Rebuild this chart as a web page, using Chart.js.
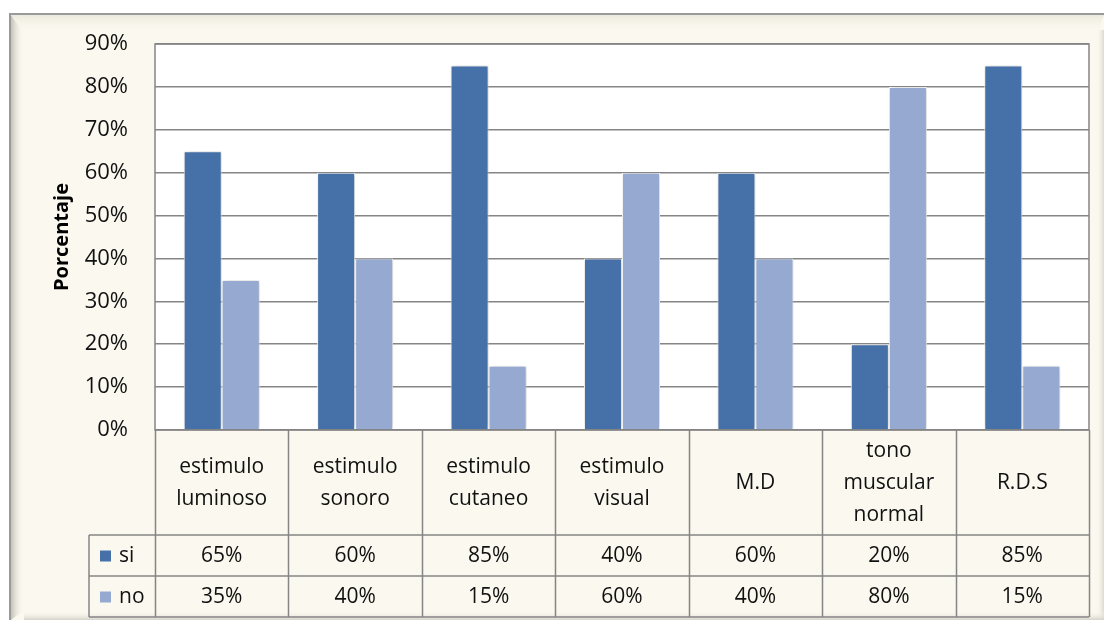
<!DOCTYPE html>
<html>
<head>
<meta charset="utf-8">
<script src="https://cdn.jsdelivr.net/npm/chart.js@4.4.1/dist/chart.umd.min.js"></script>
<style>
  html, body { margin: 0; padding: 0; background: #ffffff; }
  #wrap { width: 1104px; height: 620px; }
</style>
</head>
<body>
<div id="wrap"><canvas id="chart" width="1104" height="620"></canvas></div>
<script>
var categories = [
  ["estimulo", "luminoso"],
  ["estimulo", "sonoro"],
  ["estimulo", "cutaneo"],
  ["estimulo", "visual"],
  ["M.D"],
  ["tono", "muscular", "normal"],
  ["R.D.S"]
];
var siValues = [65, 60, 85, 40, 60, 20, 85];
var noValues = [35, 40, 15, 60, 40, 80, 15];
var seriesNames = ["si", "no"];
var yMax = 90;
var yStep = 10;

var siColor = "#4671a8";
var noColor = "#95a9d1";
var cream = "#fbf9ef";
var lineGray = "#858585";
var fontFamily = "'Open Sans', Lato, sans-serif";

// marco con bisel estilo Excel
var framePlugin = {
  id: "frame",
  beforeDraw: function(chart) {
    var ctx = chart.ctx;
    var w = chart.width, h = chart.height;
    var a = chart.chartArea;
    ctx.save();
    ctx.fillStyle = "#ffffff";
    ctx.fillRect(0, 0, w, h);
    ctx.fillStyle = cream;
    ctx.fillRect(10, 14, w - 10, h - 14);

    // bisel izquierdo
    var g = ctx.createLinearGradient(11, 0, 24, 0);
    g.addColorStop(0, "#c4c2b6");
    g.addColorStop(1, "rgba(251,249,239,0)");
    ctx.fillStyle = g;
    ctx.beginPath();
    ctx.moveTo(11, 15); ctx.lineTo(24, 33); ctx.lineTo(24, h - 10); ctx.lineTo(11, h);
    ctx.fill();
    // bisel superior
    g = ctx.createLinearGradient(0, 15, 0, 33);
    g.addColorStop(0, "#ebe9de");
    g.addColorStop(1, "rgba(251,249,239,0)");
    ctx.fillStyle = g;
    ctx.beginPath();
    ctx.moveTo(11, 15); ctx.lineTo(w, 15); ctx.lineTo(w - 6, 33); ctx.lineTo(24, 33);
    ctx.fill();
    // bisel derecho
    g = ctx.createLinearGradient(w - 8, 0, w, 0);
    g.addColorStop(0, "rgba(251,249,239,0)");
    g.addColorStop(1, "#dcdad0");
    ctx.fillStyle = g;
    ctx.fillRect(w - 8, 30, 8, h - 30);
    // bisel inferior
    g = ctx.createLinearGradient(0, h - 9, 0, h);
    g.addColorStop(0, "rgba(251,249,239,0)");
    g.addColorStop(1, "#d6d4ca");
    ctx.fillStyle = g;
    ctx.fillRect(24, h - 9, w - 24, 9);

    ctx.strokeStyle = "#9a9a9a";
    ctx.lineWidth = 2;
    ctx.beginPath();
    ctx.moveTo(10, h); ctx.lineTo(10, 14); ctx.lineTo(w, 14);
    ctx.stroke();

    // fondo del area de trazado
    ctx.fillStyle = "#ffffff";
    ctx.fillRect(a.left, a.top, a.right - a.left, a.bottom - a.top);
    ctx.restore();
  }
};

var shadowPlugin = {
  id: "barShadow",
  beforeDatasetsDraw: function(chart) {
    var ctx = chart.ctx;
    ctx.save();
    ctx.shadowColor = "rgba(0,0,0,0.25)";
    ctx.shadowBlur = 5;
    ctx.shadowOffsetX = 1;
    ctx.shadowOffsetY = 0;
  },
  afterDatasetsDraw: function(chart) {
    chart.ctx.restore();
  }
};

// tabla de datos debajo del grafico
var tablePlugin = {
  id: "dataTable",
  afterDraw: function(chart) {
    var ctx = chart.ctx;
    var a = chart.chartArea;
    var x = chart.scales.x;
    var headBottom = 535, row1Bottom = 576, row2Bottom = 617, legendLeft = 89;
    var colW = (a.right - a.left) / categories.length;
    var i, j;

    ctx.save();
    ctx.strokeStyle = lineGray;
    ctx.lineWidth = 1.5;

    // borde del area de trazado
    ctx.strokeRect(a.left, a.top, a.right - a.left, a.bottom - a.top);

    ctx.beginPath();
    for (i = 0; i <= categories.length; i++) {
      var lx = Math.round(a.left + colW * i) + 0.5;
      ctx.moveTo(lx, a.bottom);
      ctx.lineTo(lx, row2Bottom);
    }
    ctx.moveTo(legendLeft, headBottom); ctx.lineTo(a.right, headBottom);
    ctx.moveTo(legendLeft, row1Bottom); ctx.lineTo(a.right, row1Bottom);
    ctx.moveTo(legendLeft, row2Bottom); ctx.lineTo(a.right, row2Bottom);
    ctx.moveTo(legendLeft, headBottom); ctx.lineTo(legendLeft, row2Bottom);
    ctx.stroke();

    ctx.fillStyle = "#111111";
    ctx.textAlign = "center";
    ctx.textBaseline = "middle";
    ctx.font = "21px " + fontFamily;
    var headMid = (a.bottom + headBottom) / 2 + 1;
    var lh = 32;
    for (i = 0; i < categories.length; i++) {
      var cx = x.getPixelForValue(i);
      var lines = categories[i];
      var y0 = headMid - (lines.length - 1) * lh / 2;
      for (j = 0; j < lines.length; j++) {
        ctx.fillText(lines[j], cx, y0 + j * lh);
      }
    }

    var rows = [siValues, noValues];
    var colors = [siColor, noColor];
    var tops = [headBottom, row1Bottom];
    var bottoms = [row1Bottom, row2Bottom];
    for (j = 0; j < rows.length; j++) {
      var my = (tops[j] + bottoms[j]) / 2 + 1;
      for (i = 0; i < rows[j].length; i++) {
        ctx.textAlign = "center";
        ctx.fillText(rows[j][i] + "%", x.getPixelForValue(i), my);
      }
      ctx.fillStyle = colors[j];
      ctx.fillRect(100, my - 6, 11, 11);
      ctx.fillStyle = "#111111";
      ctx.textAlign = "left";
      ctx.fillText(seriesNames[j], 119, my);
    }
    ctx.restore();
  }
};

new Chart(document.getElementById("chart"), {
  type: "bar",
  data: {
    labels: categories,
    datasets: [{
      label: seriesNames[0],
      data: siValues,
      backgroundColor: siColor,
      borderColor: "#ffffff",
      borderWidth: 1
    }, {
      label: seriesNames[1],
      data: noValues,
      backgroundColor: noColor,
      borderColor: "#ffffff",
      borderWidth: 1
    }]
  },
  options: {
    responsive: false,
    animation: false,
    devicePixelRatio: 1,
    layout: {
      padding: { left: 0, right: 15, top: 44, bottom: 190 }
    },
    datasets: {
      bar: { categoryPercentage: 0.57, barPercentage: 1 }
    },
    plugins: {
      legend: { display: false },
      tooltip: { enabled: false }
    },
    scales: {
      x: {
        display: false
      },
      y: {
        min: 0,
        max: yMax,
        afterFit: function(scale) { scale.width = 155; },
        ticks: {
          stepSize: yStep,
          padding: 27,
          color: "#111111",
          font: { family: fontFamily, size: 22 },
          callback: function(value) { return value + "%"; }
        },
        grid: {
          color: lineGray,
          lineWidth: 1.5,
          drawTicks: false
        },
        border: { display: false },
        title: {
          display: true,
          text: "Porcentaje",
          color: "#000000",
          font: { family: fontFamily, size: 20, weight: "bold" },
          padding: { top: 50, bottom: 0 }
        }
      }
    }
  },
  plugins: [framePlugin, shadowPlugin, tablePlugin]
});
</script>
</body>
</html>
